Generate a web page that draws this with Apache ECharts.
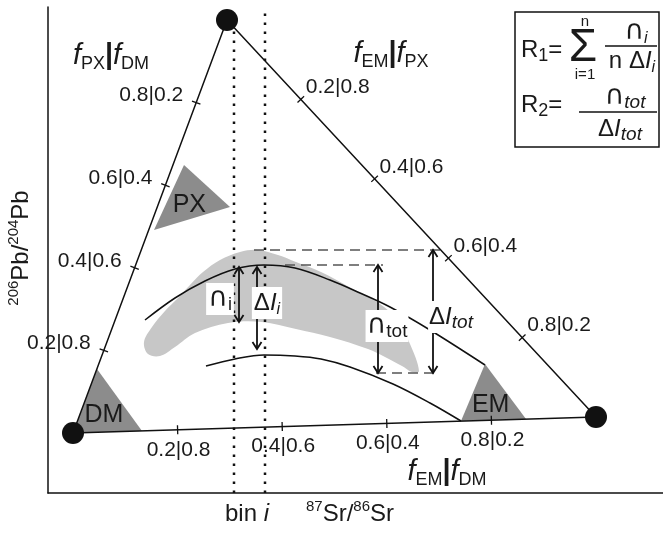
<!DOCTYPE html>
<html><head><meta charset="utf-8">
<script src="https://cdn.jsdelivr.net/npm/echarts@6/dist/echarts.min.js"></script>
<style>html,body{margin:0;padding:0;background:#fff}#main{width:663px;height:535px}</style>
</head><body><div id="main"></div>
<script>
// ---- data (diagram units: x ~ 87Sr/86Sr, y ~ 206Pb/204Pb, arbitrary) ----
const endMemberNames = ['PX', 'DM', 'EM'];
const endMemberX = [179, 25, 548];
const endMemberY = [473, 60, 76];
const edgePairs = [[1, 0], [0, 2], [1, 2]]; // DM->PX, PX->EM, DM->EM
const tickFractions = [0.2, 0.4, 0.6, 0.8];
const tickLabels = ['0.2|0.8', '0.4|0.6', '0.6|0.4', '0.8|0.2'];
const binEdgesX = [186, 217];
const pxPatchX = [136, 182, 106], pxPatchY = [328, 286, 263];
const dmPatchX = [49, 25, 94], dmPatchY = [124, 60, 62];
const emPatchX = [437, 413, 478], emPatchY = [129, 72, 74];
const upperCurveX = [97, 127, 157, 187, 216, 247, 282, 312, 342, 382, 437];
const upperCurveY = [173, 195, 212, 224, 228, 225, 213, 200, 186, 163, 128];
const lowerCurveX = [158, 187, 216, 247, 273, 302, 345, 382, 413];
const lowerCurveY = [127, 134, 138, 137, 134, 126, 109, 90, 72];
const blobX = [96, 104, 117, 130, 142, 155, 172, 192, 210, 230, 248, 273, 303, 332, 349, 362, 371, 364, 354, 337, 320, 282, 248, 214, 180, 147, 127, 112, 100];
const blobY = [151, 166, 182, 195, 208, 221, 233, 241, 243, 238, 231, 221, 205, 189, 173, 149, 122, 121, 127, 136, 144, 156, 164, 171, 170, 160, 146, 137, 139];
const dashedY = [243, 228, 120];
const dashedX0 = [206, 237, 328];
const dashedX1 = [398, 335, 388];
const arrowX = [191, 209, 330, 385];
const arrowTopY = [226, 226, 228, 243];
const arrowBottomY = [171, 144, 120, 120];

// ---- styling ----
const FONT = "'Liberation Sans', Arial, 'DejaVu Sans', sans-serif";
const INK = '#111';
const zip = (xs, ys) => xs.map((x, i) => [x, ys[i]]);

const chart = echarts.init(document.getElementById('main'), null, {renderer: 'canvas'});

function polygonSeries(xs, ys, color, z, label) {
  return {
    type: 'custom', z: z, silent: true, clip: false, coordinateSystem: 'cartesian2d',
    data: [[xs[0], ys[0]]],
    renderItem: function (params, api) {
      const pts = xs.map((x, i) => api.coord([x, ys[i]]));
      const children = [{type: 'polygon', shape: {points: pts, smooth: label ? 0 : 0.35}, style: {fill: color}}];
      if (label) {
        const cx = pts.reduce((s, p) => s + p[0], 0) / pts.length;
        const cy = pts.reduce((s, p) => s + p[1], 0) / pts.length;
        children.push({type: 'text', x: cx, y: cy + 4, style: {text: label, font: '25px ' + FONT, fill: '#1a1a1a', align: 'center', verticalAlign: 'middle'}});
      }
      return {type: 'group', children: children};
    }
  };
}

const tickLabelPlacement = [
  {dx: -13, dy: -7, align: 'right'},
  {dx: 5, dy: -12, align: 'left'},
  {dx: 1, dy: 20, align: 'center'}
];

const series = [];
// grey data field
series.push(polygonSeries(blobX, blobY, '#c7c7c7', 1));
// end-member source regions
series.push(polygonSeries(pxPatchX, pxPatchY, '#8c8c8c', 2, 'PX'));
series.push(polygonSeries(dmPatchX, dmPatchY, '#8c8c8c', 2, 'DM'));
series.push(polygonSeries(emPatchX, emPatchY, '#8c8c8c', 2, 'EM'));
// bin i dotted lines
binEdgesX.forEach(x => series.push({
  type: 'line', z: 3, silent: true, showSymbol: false, symbol: 'none',
  data: [[x, 0], [x, 486]],
  lineStyle: {color: INK, width: 2.5, type: [2.5, 6.5], cap: 'butt'}
}));
// dashed guides
dashedY.forEach((y, i) => series.push({
  type: 'line', z: 3, silent: true, symbol: 'none',
  data: [[dashedX0[i], y], [dashedX1[i], y]],
  lineStyle: {color: '#555', width: 1.3, type: [10, 6]}
}));
// envelope curves
series.push({type: 'line', z: 4, silent: true, symbol: 'none', smooth: 0.35,
  data: zip(upperCurveX, upperCurveY), lineStyle: {color: INK, width: 1.5}});
series.push({type: 'line', z: 4, silent: true, symbol: 'none', smooth: 0.35,
  data: zip(lowerCurveX, lowerCurveY), lineStyle: {color: INK, width: 1.5}});
// triangle edges
series.push({type: 'line', z: 5, silent: true, symbol: 'none',
  data: [1, 0, 2, 1].map(k => [endMemberX[k], endMemberY[k]]),
  lineStyle: {color: INK, width: 1.5}});
// edge ticks and labels
series.push({
  type: 'custom', z: 5, silent: true, clip: false, coordinateSystem: 'cartesian2d',
  data: edgePairs.flatMap((e, ei) => tickFractions.map((t, ti) => [ei, ti])),
  renderItem: function (params, api) {
    const ei = api.value(0), ti = api.value(1);
    const a = edgePairs[ei][0], b = edgePairs[ei][1];
    const pa = api.coord([endMemberX[a], endMemberY[a]]);
    const pb = api.coord([endMemberX[b], endMemberY[b]]);
    const t = tickFractions[ti];
    const dx = pb[0] - pa[0], dy = pb[1] - pa[1];
    const px = pa[0] + dx * t, py = pa[1] + dy * t;
    const len = Math.hypot(dx, dy), nx = -dy / len, ny = dx / len, h = 4.5;
    const st = tickLabelPlacement[ei];
    return {type: 'group', children: [
      {type: 'line', shape: {x1: px - nx * h, y1: py - ny * h, x2: px + nx * h, y2: py + ny * h}, style: {stroke: INK, lineWidth: 1.3}},
      {type: 'text', x: px + st.dx, y: py + st.dy, style: {text: tickLabels[ti], font: '21px ' + FONT, fill: '#1a1a1a', align: st.align, verticalAlign: 'middle'}}
    ]};
  }
});
// double arrows
series.push({
  type: 'custom', z: 6, silent: true, clip: false, coordinateSystem: 'cartesian2d',
  data: arrowX.map((x, i) => [x, arrowTopY[i]]),
  renderItem: function (params, api) {
    const i = params.dataIndex;
    const top = api.coord([arrowX[i], arrowTopY[i]]);
    const bot = api.coord([arrowX[i], arrowBottomY[i]]);
    const w = 4.5, hh = 7, st = {stroke: INK, lineWidth: 1.8, fill: null};
    return {type: 'group', children: [
      {type: 'line', shape: {x1: top[0], y1: top[1], x2: bot[0], y2: bot[1]}, style: st},
      {type: 'polyline', shape: {points: [[top[0] - w, top[1] + hh], top, [top[0] + w, top[1] + hh]]}, style: st},
      {type: 'polyline', shape: {points: [[bot[0] - w, bot[1] - hh], bot, [bot[0] + w, bot[1] - hh]]}, style: st}
    ]};
  }
});
// end-member vertices
series.push({type: 'scatter', z: 8, silent: true, symbolSize: 22,
  data: zip(endMemberX, endMemberY), itemStyle: {color: INK, opacity: 1}});

// ---- text ----
const richBase = {
  m: {fontSize: 24, fontFamily: FONT, lineHeight: 30, color: '#1a1a1a'},
  mi: {fontSize: 24, fontFamily: FONT, fontStyle: 'italic', lineHeight: 30, color: '#1a1a1a'},
  f: {fontSize: 29, fontFamily: FONT, fontStyle: 'italic', lineHeight: 34, color: '#1a1a1a'},
  bar: {fontSize: 29, fontFamily: FONT, fontWeight: 'bold', lineHeight: 34, color: '#1a1a1a'},
  s: {fontSize: 18, fontFamily: FONT, lineHeight: 18, verticalAlign: 'bottom', color: '#1a1a1a'},
  si: {fontSize: 16, fontFamily: FONT, fontStyle: 'italic', lineHeight: 16, verticalAlign: 'bottom', color: '#1a1a1a'},
  ti: {fontSize: 19, fontFamily: FONT, fontStyle: 'italic', lineHeight: 19, verticalAlign: 'bottom', color: '#1a1a1a'},
  t: {fontSize: 19, fontFamily: FONT, lineHeight: 19, verticalAlign: 'bottom', color: '#1a1a1a'},
  sup: {fontSize: 15, fontFamily: FONT, lineHeight: 15, verticalAlign: 'top', color: '#1a1a1a'},
  cap: {fontSize: 27, fontFamily: "'DejaVu Sans', sans-serif", lineHeight: 30, color: '#1a1a1a'},
  sg: {fontSize: 46, fontFamily: FONT, lineHeight: 46, color: '#1a1a1a'},
  sm: {fontSize: 15, fontFamily: FONT, lineHeight: 15, color: '#1a1a1a'}
};
function txt(x, y, text, extra) {
  return {type: 'text', x: x, y: y, z: 50, silent: true,
    style: Object.assign({text: text, rich: richBase, align: 'center', verticalAlign: 'middle', font: '24px ' + FONT, fill: '#1a1a1a'}, extra || {})};
}
function hline(x1, x2, y) {
  return {type: 'line', z: 50, silent: true, shape: {x1: x1, y1: y, x2: x2, y2: y}, style: {stroke: INK, lineWidth: 1.3}};
}

const graphic = [
  txt(111, 56, '{f|f}{s|PX}{bar||}{f|f}{s|DM}'),
  txt(391, 54, '{f|f}{s|EM}{bar||}{f|f}{s|PX}'),
  txt(447, 472, '{f|f}{s|EM}{bar||}{f|f}{s|DM}'),
  // axis titles
  Object.assign(txt(21, 248, '{sup|206}{m|Pb/}{sup|204}{m|Pb}'), {rotation: Math.PI / 2}),
  txt(247, 514, '{m|bin }{mi|i}'),
  txt(350, 514, '{sup|87}{m|Sr/}{sup|86}{m|Sr}'),
  // in-plot labels on white
  txt(220, 299, '{cap|∩}{s|i}', {backgroundColor: '#fff', padding: [1, 2, 1, 2]}),
  txt(267, 303, '{m|Δ}{mi|I}{si|i}', {backgroundColor: '#fff', padding: [1, 2, 1, 2]}),
  txt(387, 326, '{cap|∩}{t|tot}', {backgroundColor: '#fff', padding: [1, 1, 1, 1]}),
  txt(451, 317, '{m|Δ}{mi|I}{ti|tot}', {backgroundColor: '#fff', padding: [1, 1, 1, 1]}),
  // formula box
  {type: 'rect', z: 40, silent: true, shape: {x: 515, y: 12, width: 144, height: 135}, style: {fill: '#fff', stroke: INK, lineWidth: 1.5}},
  txt(521, 50, '{m|R}{s|1}{m|=}', {align: 'left'}),
  txt(583, 48, '{sg|Σ}'),
  txt(585, 22, '{sm|n}'),
  txt(585, 75, '{sm|i=1}'),
  txt(636, 32, '{cap|∩}{si|i}'),
  hline(605, 657, 46),
  txt(632, 61, '{m|n Δ}{mi|I}{si|i}'),
  txt(521, 105, '{m|R}{s|2}{m|=}', {align: 'left'}),
  txt(625, 97, '{cap|∩}{ti|tot}'),
  hline(579, 657, 112),
  txt(620, 129, '{m|Δ}{mi|I}{ti|tot}')
];

chart.setOption({
  animation: false,
  backgroundColor: '#fff',
  grid: {left: 48, right: 0, top: 7, bottom: 42, outerBoundsMode: 'none'},
  xAxis: {type: 'value', min: 0, max: 615, axisLine: {show: true, onZero: false, lineStyle: {color: INK, width: 1.5}},
    axisTick: {show: false}, axisLabel: {show: false}, splitLine: {show: false}},
  yAxis: {type: 'value', min: 0, max: 486, axisLine: {show: true, onZero: false, lineStyle: {color: INK, width: 1.5}},
    axisTick: {show: false}, axisLabel: {show: false}, splitLine: {show: false}},
  series: series,
  graphic: graphic
});
</script></body></html>
